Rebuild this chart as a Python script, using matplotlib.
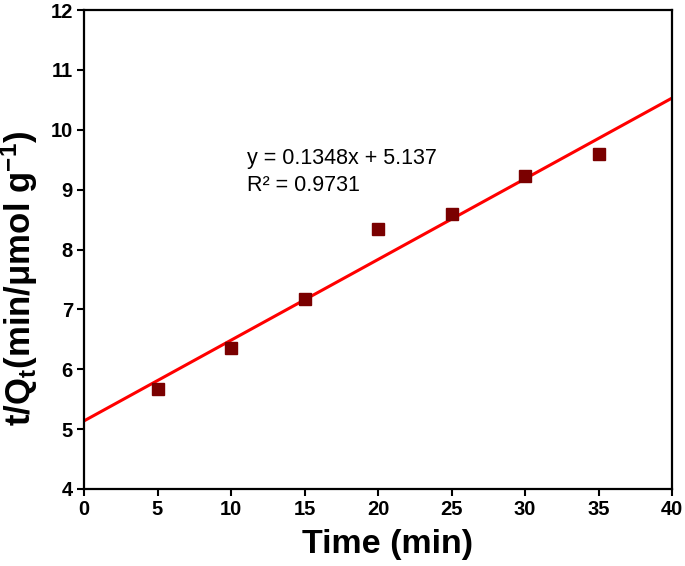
import matplotlib
matplotlib.use("Agg")
import matplotlib.pyplot as plt
import numpy as np

plt.rcParams['font.family'] = ['Liberation Sans', 'DejaVu Sans']
plt.rcParams['mathtext.fontset'] = 'custom'
plt.rcParams['mathtext.rm'] = 'Liberation Sans'
plt.rcParams['mathtext.bf'] = 'Liberation Sans:bold'
plt.rcParams['mathtext.default'] = 'bf'

time_min = [5, 10, 15, 20, 25, 30, 35]
t_over_qt = [5.67, 6.36, 7.18, 8.34, 8.60, 9.23, 9.59]
slope = 0.1348
intercept = 5.137
fit_x = [0, 40]
x_ticks = [0, 5, 10, 15, 20, 25, 30, 35, 40]
y_ticks = [4, 5, 6, 7, 8, 9, 10, 11, 12]

fig = plt.figure(figsize=(6.85, 5.66), dpi=100)
ax = fig.add_axes([84/685, 1-489/566, (672-84)/685, (489-10)/566])

fx = np.array(fit_x, dtype=float)
ax.plot(fx, slope*fx + intercept, color='#ff0000', lw=2.2, zorder=2)
ax.plot(time_min, t_over_qt, linestyle='none', marker='s', markersize=8.5,
        color='#7a0000', markeredgecolor='#7a0000', zorder=3)

ax.set_xlim(0, 40)
ax.set_ylim(4, 12)
ax.set_xticks(x_ticks)
ax.set_yticks(y_ticks)
for s in ['top', 'right']:
    ax.spines[s].set_visible(False)
for s in ['left', 'bottom']:
    ax.spines[s].set_linewidth(1.6)
ax.plot([0, 40], [12, 12], color='black', lw=1.6, clip_on=False)
ax.plot([40, 40], [4, 12], color='black', lw=1.6, clip_on=False)
ax.tick_params(direction='out', length=5, width=1.5, labelsize=14.5, pad=3)
for lab in ax.get_xticklabels() + ax.get_yticklabels():
    lab.set_fontweight('bold')

ax.set_xlabel('Time (min)', fontsize=24.5, fontweight='bold')
ax.xaxis.set_label_coords(0.516, -0.083)
ax.set_ylabel(r't/Q$_{t}$(min/μmol g$^{-1}$)', fontsize=25, fontweight='bold')
ax.yaxis.set_label_coords(-0.0745, 0.4395)

ax.text(0.277, 0.679, 'y = 0.1348x + 5.137', transform=ax.transAxes, fontsize=15.5)
ax.text(0.277, 0.622, 'R² = 0.9731', transform=ax.transAxes, fontsize=15.5)

fig.savefig('out.png', dpi=100)
